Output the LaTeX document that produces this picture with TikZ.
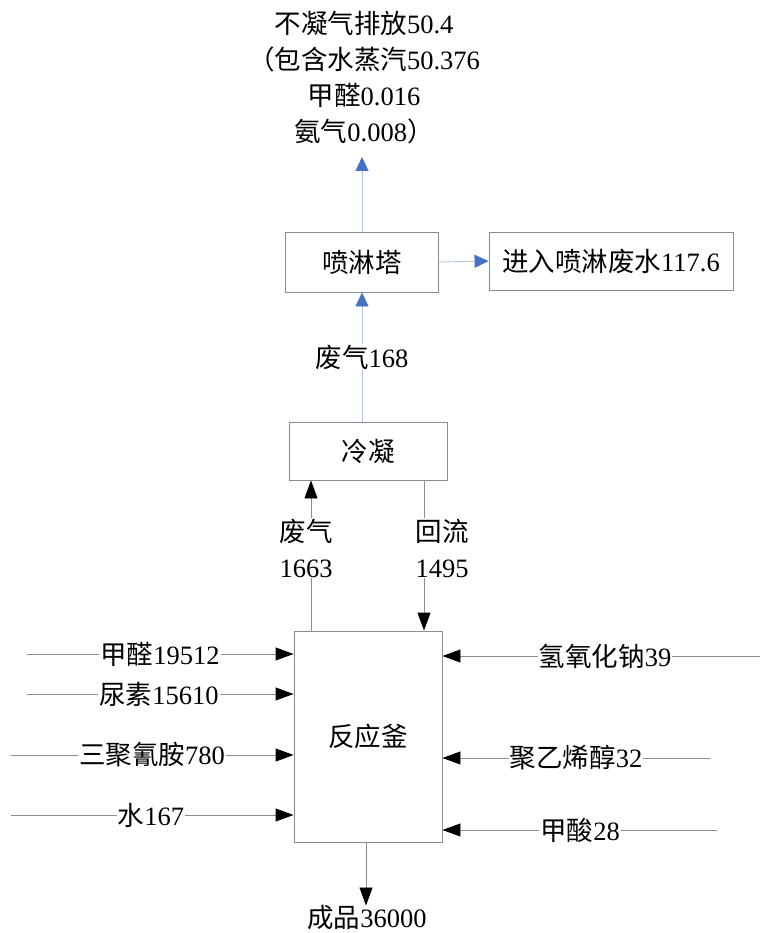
\documentclass[tikz,border=0pt]{standalone}
\usepackage{fontspec}
\setmainfont{Liberation Serif}
\newfontfamily\cjk{Noto Sans CJK SC}
\usetikzlibrary{arrows.meta}
\definecolor{linegray}{HTML}{8C8C8C}
\definecolor{boxgray}{HTML}{8C8C8C}
\definecolor{bluel}{HTML}{B4C7E7}
\definecolor{blueh}{HTML}{4472C4}
\begin{document}
\begin{tikzpicture}[x=1pt,y=-1pt,
  every node/.style={font=\fontsize{26.5}{36}\selectfont, inner sep=0pt},
  box/.style={draw=boxgray, line width=0.9pt, rectangle},
  blk/.style={draw=linegray, line width=0.9pt, -{Triangle[length=18pt,width=13pt,color=black]}},
  blu/.style={draw=bluel, line width=0.9pt, -{Triangle[length=14pt,width=13pt,color=blueh]}},
  lbl/.style={fill=white, inner sep=1pt, align=center}]
\useasboundingbox[fill=white] (0,0) rectangle (760,933);

% boxes
\node[box, minimum width=153pt, minimum height=60pt] (S) at (362,262) {\cjk 喷淋塔};
\node[box, minimum width=244pt, minimum height=58pt] (W) at (611,261) {{\cjk 进入喷淋废水}117.6};
\node[box, minimum width=158pt, minimum height=58pt] (C) at (368,451) {\cjk 冷凝};
\node[box, minimum width=148pt, minimum height=211pt] (R) at (368,736.5) {\cjk 反应釜};

% top text
\node[align=center] (T) at (364,78) {{\cjk 不凝气排放}50.4\\{\cjk （包含水蒸汽}50.376\\{\cjk 甲醛}0.016\\{\cjk 氨气}0.008{\cjk ）}};
\coordinate (tip) at (362,157);

% blue arrows
\draw[blu] (S.north) -- (tip);
\draw[blu] (S.east) -- (W.west);
\draw[blu] (S.south |- C.north) -- (S.south);
\node[lbl] (g168) at (362,357) {{\cjk 废气}168};

% condenser loop
\draw[blk] ([xshift=-57pt]R.north) -- ([xshift=-57pt]R.north |- C.south);
\draw[blk] ([xshift=56pt]R.north |- C.south) -- ([xshift=56pt]R.north);
\node[lbl] (g1663) at (306,548) {{\cjk 废气}\\1663};
\node[lbl] (h1495) at (442,548) {{\cjk 回流}\\1495};

% left inputs
\coordinate (a1) at (27,654);
\coordinate (a2) at (27,694);
\coordinate (a3) at (11,755);
\coordinate (a4) at (11,815);
\draw[blk] (a1) -- (a1 -| R.west);
\draw[blk] (a2) -- (a2 -| R.west);
\draw[blk] (a3) -- (a3 -| R.west);
\draw[blk] (a4) -- (a4 -| R.west);
\node[lbl] (l1) at (160,654) {{\cjk 甲醛}19512};
\node[lbl] (l2) at (159,694) {{\cjk 尿素}15610};
\node[lbl] (l3) at (152,755) {{\cjk 三聚氰胺}780};
\node[lbl] (l4) at (151,815) {{\cjk 水}167};

% right inputs
\coordinate (b1) at (760,656);
\coordinate (b2) at (710,758);
\coordinate (b3) at (717,830);
\draw[blk] (b1) -- (b1 -| R.east);
\draw[blk] (b2) -- (b2 -| R.east);
\draw[blk] (b3) -- (b3 -| R.east);
\node[lbl] (r1) at (605,656) {{\cjk 氢氧化钠}39};
\node[lbl] (r2) at (576,758) {{\cjk 聚乙烯醇}32};
\node[lbl] (r3) at (580,830) {{\cjk 甲酸}28};

% product
\node (P) at (367,918) {{\cjk 成品}36000};
\draw[blk] ([xshift=-2pt]R.south) -- ([xshift=-2pt]R.south |- P.north);
\end{tikzpicture}
\end{document}
